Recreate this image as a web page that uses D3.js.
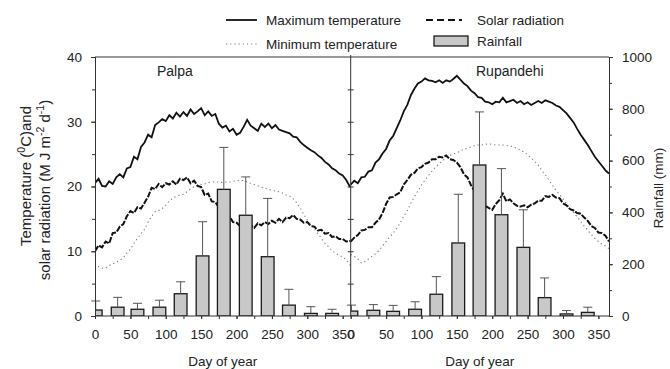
<!DOCTYPE html>
<html>
<head>
<meta charset="utf-8">
<style>
  body { margin: 0; background: #fff; }
  svg { font-family: "Liberation Sans", Arial, sans-serif; }
</style>
</head>
<body>
<svg width="670" height="369"></svg>
<script src="https://cdnjs.cloudflare.com/ajax/libs/d3/7.8.5/d3.min.js"></script>
<script>

// day of year for the daily series (read every 5 days)
var days = [0,5,10,15,20,25,30,35,40,45,50,55,60,65,70,75,80,85,90,95,
            100,105,110,115,120,125,130,135,140,145,150,155,160,165,170,175,180,185,190,195,
            200,205,210,215,220,225,230,235,240,245,250,255,260,265,270,275,280,285,290,295,
            300,305,310,315,320,325,330,335,340,345,350,355,360,365];

var palpaMax = [20.5,21.2,20.1,20.0,20.8,20.4,21.4,21.9,21.4,22.8,
                23.0,24.6,24.2,26.1,26.8,28.0,27.6,29.5,29.9,30.4,
                30.1,31.0,30.5,31.4,30.8,31.5,30.9,31.9,31.2,31.6,
                32.1,31.0,31.6,30.9,31.2,29.7,29.1,29.4,28.5,28.9,
                28.0,28.3,29.2,30.3,29.4,29.0,28.6,29.7,29.2,29.7,
                29.0,29.5,28.8,28.6,28.4,28.2,27.7,27.6,26.9,26.4,
                26.0,25.6,25.3,24.8,24.4,23.8,23.4,22.8,22.5,22.0,
                21.7,21.0,20.0,19.8];
var palpaSolar = [10.0,10.9,10.6,11.5,11.2,12.8,12.9,13.8,14.2,15.4,
                  16.2,15.9,16.8,16.6,17.5,18.4,19.8,19.6,20.4,19.9,
                  20.5,20.3,20.8,20.3,21.2,21.0,21.4,20.5,20.9,20.1,
                  19.9,18.7,18.9,17.7,17.6,16.8,16.5,15.6,15.4,14.5,
                  14.4,13.9,14.2,13.7,14.0,13.6,14.3,14.0,14.5,14.2,
                  14.7,14.4,15.0,14.5,15.2,15.1,15.6,15.0,14.9,14.4,
                  14.5,13.9,13.8,13.2,13.3,12.7,12.8,12.2,12.3,11.9,
                  11.9,11.5,11.6,11.2];
var palpaMin = [8.1,7.6,7.4,7.4,7.8,8.0,8.3,8.6,9.0,9.7,
                10.3,11.2,12.0,12.7,13.4,14.5,15.4,16.1,16.3,16.6,
                17.1,17.8,18.2,18.5,18.7,18.8,19.2,19.6,20.0,20.1,
                20.3,20.4,20.6,20.7,20.7,20.7,20.6,20.7,20.7,20.8,
                20.9,21.0,20.9,20.7,20.5,20.3,20.1,19.9,19.7,19.6,
                19.4,19.3,19.2,19.0,18.7,18.5,18.1,17.5,16.7,15.7,
                14.8,14.2,13.5,12.7,12.0,11.2,10.7,10.1,9.7,9.4,
                9.1,8.7,7.9,7.7];

var rupMax = [20.3,20.9,20.5,21.4,21.5,22.3,22.5,23.7,24.2,25.1,
              25.8,27.1,27.8,29.0,30.2,31.6,32.6,34.1,35.1,35.9,
              36.2,36.7,36.4,36.3,36.1,36.4,36.0,36.4,36.2,36.6,
              37.1,36.5,35.9,35.5,34.8,34.4,33.8,33.7,33.1,33.0,
              32.7,33.1,33.0,33.7,33.0,33.2,33.4,32.9,33.2,32.7,
              33.0,32.6,32.9,33.2,32.9,33.3,33.1,32.9,32.5,32.3,
              31.8,31.3,30.6,29.9,28.9,28.0,27.2,26.4,25.5,24.6,
              23.9,23.2,22.5,22.0];
var rupSolar = [11.5,12.1,12.5,13.2,13.3,13.7,13.7,14.4,14.9,15.9,
                17.3,18.3,18.4,18.8,19.1,20.3,21.0,21.8,22.1,22.8,
                23.0,23.5,23.7,24.2,24.2,24.6,24.5,24.8,24.2,24.1,
                23.7,23.0,21.9,21.4,20.2,19.3,18.2,17.7,17.0,16.7,
                16.4,17.3,17.9,18.9,17.7,18.0,17.4,17.0,16.9,17.1,
                16.8,17.2,17.4,17.8,17.8,18.5,18.4,18.7,18.3,18.2,
                17.4,17.1,16.5,16.3,15.9,15.8,15.2,14.7,13.9,13.6,
                12.9,12.8,12.4,11.5];
var rupMin = [9.5,9.2,8.8,8.2,8.4,8.8,9.2,9.6,10.1,10.8,
              11.5,12.2,12.8,13.5,14.4,15.4,16.3,17.4,18.4,19.3,
              20.2,21.0,21.7,22.4,23.0,23.5,24.0,24.4,24.8,25.0,
              25.2,25.5,25.8,25.9,26.1,26.3,26.4,26.4,26.5,26.6,
              26.5,26.4,26.4,26.4,26.3,26.3,26.1,25.9,25.6,25.3,
              24.9,24.4,23.9,23.3,22.5,21.8,21.0,20.2,19.4,18.8,
              18.1,17.3,16.6,16.0,15.3,14.6,13.9,13.2,12.6,12.0,
              11.5,11.1,10.8,10.4];

// monthly rainfall (mm), bar placed at first day of each month
var monthDays = [1,32,60,91,121,152,182,213,244,274,305,335];
var palpaRain    = [23,34,26,34,86,232,489,389,229,42,10,10];
var palpaRainTop = [58,72,49,61,132,364,651,537,454,103,36,26];
var rupRain      = [19,22,18,26,84,282,583,391,265,71,8,14];
var rupRainTop   = [42,44,41,55,152,470,788,569,410,147,21,34];

var tempTicks = [0,10,20,30,40];
var tempMinor = [0,5,10,15,20,25,30,35,40];
var rainTicks = [0,200,400,600,800,1000];
var rainMinor = [0,100,200,300,400,500,600,700,800,900,1000];
var dayTicks  = [0,50,100,150,200,250,300,350];
var dayMinor  = [0,25,50,75,100,125,150,175,200,225,250,275,300,325,350];

var svg = d3.select("svg");
var plotTop = 57, plotBottom = 316, plotLeft = 95, plotMid = 350.7, plotRight = 609;
var fs = 13.5;

var y = d3.scaleLinear().domain([0, 40]).range([plotBottom, plotTop]);
var yRain = d3.scaleLinear().domain([0, 1000]).range([plotBottom, plotTop]);
var xL = d3.scaleLinear().domain([0, 365]).range([plotLeft, plotLeft + 365 * 0.7077]);
var xR = d3.scaleLinear().domain([0, 365]).range([plotMid, plotRight]);

var defs = svg.append("defs");
defs.append("clipPath").attr("id", "clipL").append("rect")
    .attr("x", plotLeft).attr("y", plotTop).attr("width", plotMid - plotLeft).attr("height", plotBottom - plotTop);
defs.append("clipPath").attr("id", "clipR").append("rect")
    .attr("x", plotMid).attr("y", plotTop).attr("width", plotRight - plotMid).attr("height", plotBottom - plotTop);

function drawPanel(x, clip, name, nameX, maxT, solar, minT, rain, rainTop) {
    var g = svg.append("g").attr("clip-path", "url(#" + clip + ")");
    var line = d3.line().x(function(d) { return x(d[0]); }).y(function(d) { return y(d[1]); });

    g.append("path").datum(d3.zip(days, minT))
        .attr("fill", "none").attr("stroke", "#777").attr("stroke-width", 1.1)
        .attr("stroke-dasharray", "1.2,3").attr("d", line);
    g.append("path").datum(d3.zip(days, solar))
        .attr("fill", "none").attr("stroke", "#111").attr("stroke-width", 2)
        .attr("stroke-dasharray", "6,1.5").attr("d", line);
    g.append("path").datum(d3.zip(days, maxT))
        .attr("fill", "none").attr("stroke", "#111").attr("stroke-width", 1.8)
        .attr("d", line);

    var bw = x(18) - x(0);
    var bars = d3.zip(monthDays, rain, rainTop);

    // error bars
    var e = svg.append("g").attr("stroke", "#555").attr("stroke-width", 1);
    e.selectAll(".v").data(bars).enter().append("line")
        .attr("x1", function(d) { return x(d[0]); }).attr("x2", function(d) { return x(d[0]); })
        .attr("y1", function(d) { return yRain(d[1]); }).attr("y2", function(d) { return yRain(d[2]); });
    e.selectAll(".c").data(bars).enter().append("line")
        .attr("x1", function(d) { return x(d[0]) - 4.5; }).attr("x2", function(d) { return x(d[0]) + 4.5; })
        .attr("y1", function(d) { return yRain(d[2]); }).attr("y2", function(d) { return yRain(d[2]); });

    g.selectAll("rect").data(bars).enter().append("rect")
        .attr("x", function(d) { return x(d[0]) - bw / 2; })
        .attr("width", bw)
        .attr("y", function(d) { return yRain(d[1]); })
        .attr("height", function(d) { return plotBottom - yRain(d[1]); })
        .attr("fill", "#c8c8c8").attr("stroke", "#1a1a1a").attr("stroke-width", 1.3);

    // x axis
    var ax = svg.append("g").attr("transform", "translate(0," + plotBottom + ")")
        .call(d3.axisBottom(x).tickValues(dayTicks).tickSize(3).tickPadding(10).tickFormat(d3.format("d")));
    ax.select(".domain").remove();
    ax.selectAll("text").attr("font-size", fs).attr("font-family", null).attr("fill", "#222");
    ax.selectAll("line").attr("stroke", "#333");
    svg.append("g").attr("transform", "translate(0," + plotBottom + ")")
        .call(d3.axisBottom(x).tickValues(dayMinor).tickSize(3).tickFormat(""))
        .call(function(s) { s.select(".domain").remove(); s.selectAll("line").attr("stroke", "#333"); });

    var cx = x === xL ? (plotLeft + plotMid) / 2 : (plotMid + plotRight) / 2;
    svg.append("text").attr("x", cx)
        .attr("y", 366).attr("text-anchor", "middle").attr("font-size", fs).attr("fill", "#222")
        .text("Day of year");
    svg.append("text").attr("x", nameX).attr("y", 76).attr("font-size", fs + 0.5).attr("fill", "#222")
        .text(name);
}

drawPanel(xL, "clipL", "Palpa", 157, palpaMax, palpaSolar, palpaMin, palpaRain, palpaRainTop);
drawPanel(xR, "clipR", "Rupandehi", 476, rupMax, rupSolar, rupMin, rupRain, rupRainTop);

// frame
var frame = svg.append("g").attr("stroke", "#333").attr("stroke-width", 1).attr("fill", "none");
frame.append("line").attr("x1", plotLeft).attr("x2", plotRight).attr("y1", plotTop).attr("y2", plotTop);
frame.append("line").attr("x1", plotLeft).attr("x2", plotRight).attr("y1", plotBottom).attr("y2", plotBottom);
frame.append("line").attr("x1", plotMid).attr("x2", plotMid).attr("y1", plotTop - 2).attr("y2", plotBottom);

// left axis
var ay = svg.append("g").attr("transform", "translate(" + plotLeft + ",0)")
    .call(d3.axisLeft(y).tickValues(tempTicks).tickSize(4).tickPadding(9));
ay.selectAll("text").attr("font-size", fs).attr("font-family", null).attr("fill", "#222");
ay.selectAll("line, path").attr("stroke", "#333");
svg.append("g").attr("transform", "translate(" + plotLeft + ",0)")
    .call(d3.axisLeft(y).tickValues(tempMinor).tickSize(3).tickFormat(""))
    .call(function(s) { s.selectAll("line, path").attr("stroke", "#333"); });

// middle ticks, both sides
svg.append("g").attr("transform", "translate(" + plotMid + ",0)")
    .call(d3.axisLeft(y).tickValues(tempMinor.slice(1, -1)).tickSizeInner(-3).tickSizeOuter(0).tickFormat(""))
    .call(function(s) { s.select(".domain").remove(); s.selectAll("line").attr("stroke", "#333"); });
svg.append("g").attr("transform", "translate(" + plotMid + ",0)")
    .call(d3.axisLeft(y).tickValues(tempMinor.slice(1, -1)).tickSizeInner(3).tickSizeOuter(0).tickFormat(""))
    .call(function(s) { s.select(".domain").remove(); s.selectAll("line").attr("stroke", "#333"); });

// right axis
var ar = svg.append("g").attr("transform", "translate(" + plotRight + ",0)")
    .call(d3.axisRight(yRain).tickValues(rainTicks).tickSize(4).tickPadding(9).tickFormat(d3.format("d")));
ar.selectAll("text").attr("font-size", fs).attr("font-family", null).attr("fill", "#222");
ar.selectAll("line, path").attr("stroke", "#333");
svg.append("g").attr("transform", "translate(" + plotRight + ",0)")
    .call(d3.axisRight(yRain).tickValues(rainMinor).tickSize(3).tickFormat(""))
    .call(function(s) { s.selectAll("line, path").attr("stroke", "#333"); });

// axis titles
var yl = svg.append("text").attr("transform", "translate(31,176) rotate(-90)")
    .attr("text-anchor", "middle").attr("font-size", 15).attr("fill", "#222");
yl.append("tspan").text("Temperature (");
yl.append("tspan").attr("font-size", 10.5).attr("dy", -6).text("0");
yl.append("tspan").attr("dy", 6).text("C)and");

var yl2 = svg.append("text").attr("transform", "translate(50,190) rotate(-90)")
    .attr("text-anchor", "middle").attr("font-size", 15).attr("fill", "#222");
yl2.append("tspan").text("solar radiation (M J m");
yl2.append("tspan").attr("font-size", 10.5).attr("dy", -6).text("-2");
yl2.append("tspan").attr("dy", 6).text(" d");
yl2.append("tspan").attr("font-size", 10.5).attr("dy", -6).text("-1");
yl2.append("tspan").attr("dy", 6).text(")");

svg.append("text").attr("transform", "translate(663,188) rotate(-90)")
    .attr("text-anchor", "middle").attr("font-size", fs).attr("fill", "#222")
    .text("Rainfall (mm)");

// legend
var lg = svg.append("g");
lg.append("line").attr("x1", 226).attr("x2", 257).attr("y1", 20).attr("y2", 20)
    .attr("stroke", "#111").attr("stroke-width", 1.8);
lg.append("text").attr("x", 266).attr("y", 25).attr("font-size", fs).attr("fill", "#222").text("Maximum temperature");
lg.append("line").attr("x1", 226).attr("x2", 257).attr("y1", 44).attr("y2", 44)
    .attr("stroke", "#777").attr("stroke-width", 1.1).attr("stroke-dasharray", "1.2,3");
lg.append("text").attr("x", 266).attr("y", 49).attr("font-size", fs).attr("fill", "#222").text("Minimum temperature");
lg.append("line").attr("x1", 426).attr("x2", 462).attr("y1", 20).attr("y2", 20)
    .attr("stroke", "#111").attr("stroke-width", 1.8).attr("stroke-dasharray", "7,4");
lg.append("text").attr("x", 477).attr("y", 25).attr("font-size", fs).attr("fill", "#222").text("Solar radiation");
lg.append("rect").attr("x", 434).attr("y", 36).attr("width", 34).attr("height", 10)
    .attr("fill", "#c8c8c8").attr("stroke", "#1a1a1a").attr("stroke-width", 1.3);
lg.append("text").attr("x", 477).attr("y", 46).attr("font-size", fs).attr("fill", "#222").text("Rainfall");

</script>
</body>
</html>
